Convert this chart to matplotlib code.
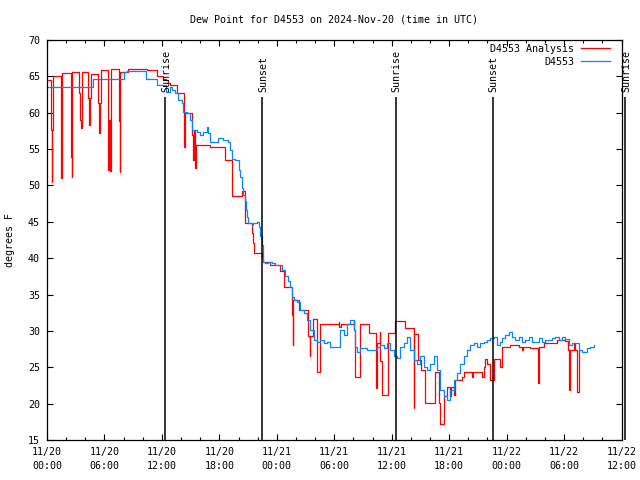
import matplotlib
matplotlib.use("Agg")
import matplotlib.pyplot as plt
from matplotlib.ticker import MultipleLocator

plt.rcParams['font.family'] = ['DejaVu Sans Mono']
plt.rcParams['font.size'] = 7.2

# hours since 11/20 00:00 UTC, dew point in F
red_hours = [0.00, 0.42, 0.47, 0.53, 0.62, 1.43, 1.49, 1.55, 1.60, 2.48, 2.52, 2.56, 2.60, 2.64,
             3.38, 3.46, 3.54, 3.63, 4.32, 4.40, 4.50, 4.57, 5.36, 5.45, 5.53, 5.61, 6.41, 6.50,
             6.58, 6.66, 7.53, 7.58, 7.63, 8.50, 10.42, 11.50, 12.10, 12.45, 12.65, 12.86, 13.59,
             14.32, 14.42, 15.12, 15.26, 15.33, 15.50, 15.58, 17.04, 18.61, 19.31, 20.35, 20.70,
             21.40, 21.56, 21.67, 22.44, 22.61, 23.31, 24.35, 24.70, 25.58, 25.65, 25.72, 26.27,
             27.31, 27.42, 27.50, 27.73, 28.19, 28.54, 30.45, 30.52, 30.70, 32.02, 32.10, 32.19,
             32.72, 33.58, 34.39, 34.46, 34.73, 34.81, 34.99, 35.62, 36.38, 37.42, 38.29, 38.36,
             38.70, 39.10, 39.50, 39.86, 40.56, 40.90, 41.08, 41.50, 41.80, 42.12, 42.23, 42.47,
             42.65, 43.35, 43.52, 44.39, 44.47, 45.43, 45.61, 45.78, 45.96, 46.31, 46.65, 47.28,
             47.53, 48.40, 49.26, 49.62, 49.75, 50.49, 51.29, 51.37, 51.88, 53.28, 54.10, 54.39,
             54.49, 54.60, 55.00, 55.19, 55.35, 55.54, 55.71]
red_vals = [64.5, 57.6, 50.5, 57.6, 65.05, 57.9, 51.0, 57.9, 65.4, 58.7, 53.9, 51.1, 58.0, 65.6,
            62.7, 59.0, 57.9, 65.6, 62.0, 58.3, 62.0, 65.3, 61.3, 57.2, 61.3, 65.9, 52.1, 59.0,
            52.0, 65.95, 58.9, 51.9, 65.6, 66.05, 65.85, 65.0, 64.7, 64.5, 64.05, 63.8, 62.7,
            55.3, 59.9, 57.0, 53.5, 57.5, 52.4, 55.6, 55.3, 53.5, 48.5, 49.2, 44.8,
            43.4, 42.05, 40.7, 40.2, 39.5, 39.1, 38.3, 36.0, 32.2, 28.1, 34.25, 32.9,
            29.3, 26.5, 29.3, 31.6, 24.4, 30.9, 31.2, 30.5, 31.0, 31.3, 30.1, 23.7,
            31.0, 29.7, 22.1, 28.3, 29.9, 25.8, 21.2, 29.7, 31.3, 30.4, 19.4, 29.6,
            26.0, 24.6, 20.1, 20.05, 24.4, 20.05, 17.2, 21.0, 22.3, 21.0, 22.3, 21.2,
            23.25, 23.7, 24.4, 23.7, 24.4, 23.7, 25.1, 26.1, 25.5, 23.3, 26.2, 25.1,
            27.8, 28.1, 27.8, 27.4, 27.8, 27.6, 22.8, 27.8, 28.3, 28.75, 28.6, 27.4,
            21.9, 27.4, 28.3, 27.4, 21.6, 27.4, 27.4]

blue_hours = [0.00, 4.78, 8.05, 8.40, 10.35, 11.47, 12.45, 12.80, 13.03, 13.38, 13.72, 14.08,
              14.25, 14.60, 14.95, 15.12, 15.29, 15.65, 15.99, 16.34, 16.69, 16.86, 17.04, 17.91,
              18.43, 18.95, 19.13, 19.31, 19.65, 20.00, 20.17, 20.35, 20.52, 20.70, 20.77, 20.87,
              21.04, 21.40, 21.56, 21.92, 22.09, 22.26, 22.44, 22.61, 22.78, 23.13, 23.49, 23.83,
              24.53, 24.88, 25.22, 25.40, 25.58, 25.75, 26.10, 26.45, 26.79, 27.14, 27.49, 27.84,
              28.19, 28.54, 28.88, 29.24, 29.58, 30.63, 30.97, 31.33, 31.67, 32.02, 32.19, 32.37,
              32.72, 33.42, 34.46, 34.81, 35.15, 35.51, 35.85, 36.20, 36.55, 36.90, 37.24, 37.60,
              37.94, 38.29, 38.64, 38.99, 39.33, 39.69, 40.03, 40.38, 40.73, 41.08, 41.42, 41.78,
              42.12, 42.47, 42.82, 43.17, 43.52, 43.87, 44.21, 44.56, 44.92, 45.26, 45.61, 45.96,
              46.31, 46.65, 47.01, 47.35, 47.53, 47.87, 48.22, 48.58, 48.92, 49.26, 49.62, 49.96,
              50.31, 50.66, 51.36, 51.71, 52.05, 52.75, 53.10, 53.45, 53.80, 54.14, 54.49, 54.84,
              55.54, 55.89, 56.41, 56.76, 57.10, 57.18]
blue_vals = [63.6, 64.6, 65.6, 65.8, 64.7, 63.75, 62.9, 63.6, 63.1, 62.7, 61.75, 61.3,
             60.1, 59.9, 59.0, 57.6, 57.6, 57.4, 56.9, 57.4, 58.1, 57.2, 56.0, 56.5,
             56.25, 56.0, 54.9, 53.7, 53.5, 52.1, 51.2, 49.6, 48.7, 47.8, 46.6, 45.7,
             44.8, 44.6, 44.8, 45.0, 44.3, 43.0, 41.8, 39.5, 39.3, 39.5, 39.3, 39.1,
             38.4, 37.5, 36.8, 36.1, 34.7, 34.25, 34.0, 32.9, 32.4, 31.5, 30.1, 28.75,
             28.5, 28.75, 28.3, 28.5, 27.8, 30.1, 29.4, 31.0, 31.5, 30.1, 27.8, 27.1,
             27.6, 27.4, 27.8, 28.1, 27.6, 28.3, 27.4, 26.5, 26.25, 27.8, 28.3, 29.2,
             27.4, 26.0, 25.5, 26.5, 25.1, 24.6, 25.5, 26.5, 24.6, 21.9, 21.0, 20.5,
             21.9, 23.25, 24.2, 25.5, 26.5, 27.4, 28.1, 28.3, 27.8, 28.3, 28.5, 28.75,
             29.0, 29.2, 28.1, 28.5, 29.0, 29.4, 29.9, 29.2, 28.75, 29.2, 28.5, 28.75,
             29.2, 28.5, 29.0, 28.5, 28.75, 29.0, 29.2, 28.75, 29.2, 28.9, 28.1, 28.3,
             27.4, 27.1, 27.6, 27.8, 28.0, 28.0]

sun_hours = [12.33, 22.50, 36.44, 46.55, 60.37]
sun_names = ["Sunrise", "Sunset", "Sunrise", "Sunset", "Sunrise"]

tick_hours = list(range(0, 61, 6))
tick_labels = ["11/20\n00:00", "11/20\n06:00", "11/20\n12:00", "11/20\n18:00",
               "11/21\n00:00", "11/21\n06:00", "11/21\n12:00", "11/21\n18:00",
               "11/22\n00:00", "11/22\n06:00", "11/22\n12:00"]

fig = plt.figure(figsize=(6.4, 4.8), dpi=100)
ax = fig.add_axes([47 / 640, 40 / 480, 574.5 / 640, 400 / 480])

ax.plot(red_hours, red_vals, drawstyle='steps-post', color='#ff0000', lw=0.9, label='D4553 Analysis')
ax.plot(blue_hours, blue_vals, drawstyle='steps-post', color='#0a84ff', lw=0.9, label='D4553')

ax.vlines(sun_hours, 15, 62.2, colors='black', lw=1.1, clip_on=False, zorder=5)
for h, name in zip(sun_hours, sun_names):
    ax.text(h + 0.1, 62.85, name, rotation=90, ha='center', va='bottom', fontsize=7.2)

ax.set_xlim(0, 60)
ax.set_ylim(15, 70)
ax.set_xticks(tick_hours)
ax.set_xticklabels(tick_labels, linespacing=1.45)
ax.xaxis.set_minor_locator(MultipleLocator(2))
ax.yaxis.set_major_locator(MultipleLocator(5))
ax.tick_params(which='both', direction='in', top=True, right=True, width=0.8)
ax.tick_params(which='major', length=4, pad=5)
ax.tick_params(which='minor', length=2.5)
for s in ax.spines.values():
    s.set_linewidth(0.9)

ax.legend(loc='upper right', bbox_to_anchor=(0.98, 0.99), frameon=False, markerfirst=False,
          handlelength=2.9, handletextpad=0.7, labelspacing=0.3, borderpad=0, borderaxespad=0)

fig.text(334 / 640, 1 - 19 / 480, "Dew Point for D4553 on 2024-Nov-20 (time in UTC)", ha='center', va='center')
fig.text(10 / 640, 0.5, "degrees F", rotation=90, ha='center', va='center')

fig.savefig("out.png", dpi=100)
